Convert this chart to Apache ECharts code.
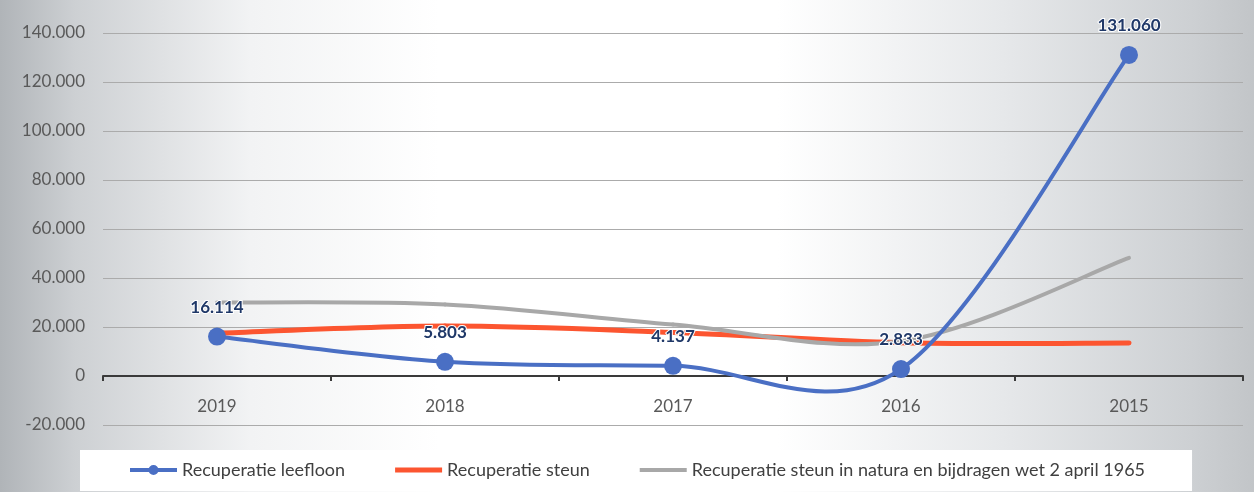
<!DOCTYPE html>
<html style="height: 100%">
<head>
    <meta charset="utf-8">
</head>
<body style="height: 100%; margin: 0">
<div id="recup_container" style="height: 492px;width: 1254px"></div>
<script src="https://cdn.jsdelivr.net/npm/echarts@6/dist/echarts.min.js"></script>
<script type="text/javascript">
    var years = ['2019', '2018', '2017', '2016', '2015'];
    var leefloon = [16114, 5803, 4137, 2833, 131060];
    var steun = [17500, 20400, 17800, 13600, 13500];
    var steunNatura = [30000, 29200, 21000, 14200, 48200];
    var seriesNames = ['Recuperatie leefloon', 'Recuperatie steun', 'Recuperatie steun in natura en bijdragen wet 2 april 1965'];

    var blue = '#4a6fc4';
    var red = '#fc5530';
    var grey = '#a8a8a8';

    // getallen met punt als duizendtal-scheiding
    function fmt(v) {
        var neg = v < 0;
        var s = String(Math.abs(Math.round(v)));
        s = s.replace(/\B(?=(\d{3})+(?!\d))/g, '.');
        return (neg ? '-' : '') + s;
    }

    // Excel-achtige gladde lijn (bezier, 1/6 van de buren)
    function smoothRender(values, color, width) {
        return function (params, api) {
            var i = params.dataIndex;
            if (i >= values.length - 1) return;
            var p = function (k) {
                k = Math.max(0, Math.min(values.length - 1, k));
                return api.coord([k, values[k]]);
            };
            var p0 = p(i - 1), p1 = p(i), p2 = p(i + 1), p3 = p(i + 2);
            return {
                type: 'bezierCurve',
                shape: {
                    x1: p1[0], y1: p1[1], x2: p2[0], y2: p2[1],
                    cpx1: p1[0] + (p2[0] - p0[0]) / 6, cpy1: p1[1] + (p2[1] - p0[1]) / 6,
                    cpx2: p2[0] - (p3[0] - p1[0]) / 6, cpy2: p2[1] - (p3[1] - p1[1]) / 6
                },
                style: { stroke: color, lineWidth: width, fill: null, lineCap: 'round' }
            };
        };
    }

    var recup_chart = echarts.init(document.getElementById('recup_container'));
    var fontFam = 'Lato, "Open Sans", sans-serif';

    var option = {
        backgroundColor: new echarts.graphic.LinearGradient(0, 0, 1, 0, [
            { offset: 0, color: '#b0b4b8' },
            { offset: 0.06, color: '#cdd0d3' },
            { offset: 0.2, color: '#f2f3f4' },
            { offset: 0.35, color: '#ffffff' },
            { offset: 0.62, color: '#ffffff' },
            { offset: 0.8, color: '#e6e8ea' },
            { offset: 0.95, color: '#cdd0d3' },
            { offset: 1, color: '#c2c5c8' }
        ]),
        textStyle: { fontFamily: fontFam },
        grid: { left: 103, right: 11, top: 33, bottom: 67 },
        legend: {
            left: 80,
            top: 450,
            padding: [11, 47, 12, 50],
            backgroundColor: '#ffffff',
            itemWidth: 47,
            itemHeight: 14,
            itemGap: 50,
            textStyle: { fontSize: 18, color: '#404040', fontFamily: fontFam },
            data: [
                { name: seriesNames[0], icon: 'path://M0,3H47V7H0Z M18.5,5a5,5 0 1,1 10,0a5,5 0 1,1 -10,0Z' },
                { name: seriesNames[1], icon: 'path://M0,0H47V5H0Z' },
                { name: seriesNames[2], icon: 'path://M0,0H47V4H0Z' }
            ]
        },
        xAxis: {
            type: 'category',
            data: years,
            boundaryGap: true,
            axisLine: { onZero: true, lineStyle: { color: '#3a3a3a', width: 2 } },
            axisTick: { show: true, length: 5, lineStyle: { color: '#3a3a3a', width: 2 } },
            axisLabel: { color: '#595959', fontSize: 17, margin: -27 }
        },
        yAxis: {
            type: 'value',
            min: -20000,
            max: 140000,
            interval: 20000,
            axisLine: { show: false },
            axisTick: { show: false },
            axisLabel: { color: '#595959', fontSize: 17, margin: 18, formatter: fmt },
            splitLine: { lineStyle: { color: '#ababab', width: 1 } }
        },
        series: [
            {
                name: seriesNames[0],
                type: 'custom',
                data: leefloon,
                z: 4,
                itemStyle: { color: blue },
                renderItem: smoothRender(leefloon, blue, 4)
            },
            {
                name: seriesNames[1],
                type: 'custom',
                data: steun,
                z: 2,
                itemStyle: { color: red },
                renderItem: smoothRender(steun, red, 5)
            },
            {
                name: seriesNames[2],
                type: 'custom',
                data: steunNatura,
                z: 3,
                itemStyle: { color: grey },
                renderItem: smoothRender(steunNatura, grey, 4)
            },
            {
                // punten en labels
                name: seriesNames[0],
                type: 'line',
                data: leefloon,
                z: 5,
                symbol: 'circle',
                symbolSize: 18,
                lineStyle: { width: 0, opacity: 0 },
                itemStyle: { color: blue },
                label: {
                    show: true,
                    position: 'top',
                    distance: 12,
                    color: '#1f3868',
                    fontWeight: 'bold',
                    fontSize: 17,
                    textBorderColor: '#ffffff',
                    textBorderWidth: 2,
                    formatter: function (p) { return fmt(p.value); }
                }
            }
        ]
    };

    recup_chart.setOption(option, true);
</script>
</body>
</html>
